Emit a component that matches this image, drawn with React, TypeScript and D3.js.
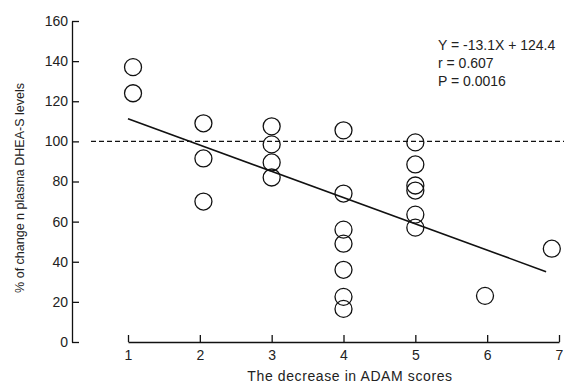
import React, { useEffect, useRef } from 'react'
import * as d3 from 'd3'

// ADAM score decrease (x) and % change in DHEA-S (y)
const adamX = [1.07, 1.07, 2.05, 2.05, 2.05, 3, 3, 3, 3, 4, 4, 4, 4, 4, 4, 4, 5, 5, 5, 5, 5, 5, 5.97, 6.9]
const dheaY = [137, 124, 109, 91.5, 70, 107.5, 98.5, 89.5, 82, 105.5, 74, 56, 49, 36, 22.5, 16.5, 99.5, 88.5, 78, 75.5, 63.5, 57, 23, 46.5]
const xTicks = [1, 2, 3, 4, 5, 6, 7]
const yTicks = [0, 20, 40, 60, 80, 100, 120, 140, 160]
const slope = -13.1
const intercept = 124.4
const fitRange = [1, 6.82]
const statLines = ['Y = -13.1X + 124.4', 'r = 0.607', 'P = 0.0016']

const App: React.FC = () => {
  const ref = useRef<SVGSVGElement | null>(null)

  useEffect(() => {
    if (!ref.current) return
    const svg = d3.select(ref.current)
    svg.selectAll('*').remove()

    const x = d3.scaleLinear().domain([1, 7]).range([128, 559])
    const y = d3.scaleLinear().domain([0, 160]).range([342, 21])
    const font = 'Liberation Sans, Arial, sans-serif'

    // y axis, ticks pointing inward
    const ya = svg.append('g')
      .attr('transform', `translate(${72},0)`)
      .call(d3.axisLeft(y).tickValues(yTicks).tickSizeInner(-7).tickSizeOuter(0).tickPadding(4))
    ya.selectAll('text').style('font-family', font).style('font-size', '14px').attr('fill', '#222')
    ya.selectAll('line, path').attr('stroke', '#111').attr('stroke-width', 1.3)

    // x axis, ticks pointing up
    const xa = svg.append('g')
      .attr('transform', `translate(0,${y(0)})`)
      .call(d3.axisBottom(x).tickValues(xTicks).tickFormat(d3.format('d')).tickSizeInner(-7).tickSizeOuter(0).tickPadding(8))
    xa.selectAll('text').style('font-family', font).style('font-size', '14px').attr('fill', '#222')
    xa.selectAll('line, path').attr('stroke', '#111').attr('stroke-width', 1.3)

    // reference line at 100%
    svg.append('line')
      .attr('x1', 91).attr('x2', 564)
      .attr('y1', y(100)).attr('y2', y(100))
      .attr('stroke', '#111').attr('stroke-width', 1.3)
      .attr('stroke-dasharray', '5,3')

    // regression line
    svg.append('line')
      .attr('x1', x(fitRange[0])).attr('y1', y(slope * fitRange[0] + intercept))
      .attr('x2', x(fitRange[1])).attr('y2', y(slope * fitRange[1] + intercept))
      .attr('stroke', '#111').attr('stroke-width', 1.6)

    // points
    svg.append('g')
      .selectAll('circle')
      .data(adamX.map((v, i) => [v, dheaY[i]]))
      .enter()
      .append('circle')
      .attr('cx', d => x(d[0]))
      .attr('cy', d => y(d[1]))
      .attr('r', 8.5)
      .attr('fill', 'none')
      .attr('stroke', '#111')
      .attr('stroke-width', 1.3)

    // stats
    svg.append('g')
      .selectAll('text')
      .data(statLines)
      .enter()
      .append('text')
      .attr('x', 438)
      .attr('y', (_, i) => 50 + i * 18)
      .style('font-family', font)
      .style('font-size', '14px')
      .attr('fill', '#222')
      .text(d => d)

    // axis labels
    svg.append('text')
      .attr('x', 350).attr('y', 381)
      .attr('text-anchor', 'middle')
      .style('font-family', font).style('font-size', '14px')
      .style('letter-spacing', '0.6px')
      .attr('fill', '#222')
      .text('The decrease in ADAM scores')

    svg.append('text')
      .attr('transform', 'translate(24,188) rotate(-90)')
      .attr('text-anchor', 'middle')
      .style('font-family', font).style('font-size', '12.5px')
      .attr('fill', '#222')
      .text('% of change n plasma DHEA-S levels')
  }, [])

  return (
    <svg ref={ref} width={564} height={385}
      style={{ position: 'absolute', left: 0, top: 0, background: '#fff' }} />
  )
}

export default App
